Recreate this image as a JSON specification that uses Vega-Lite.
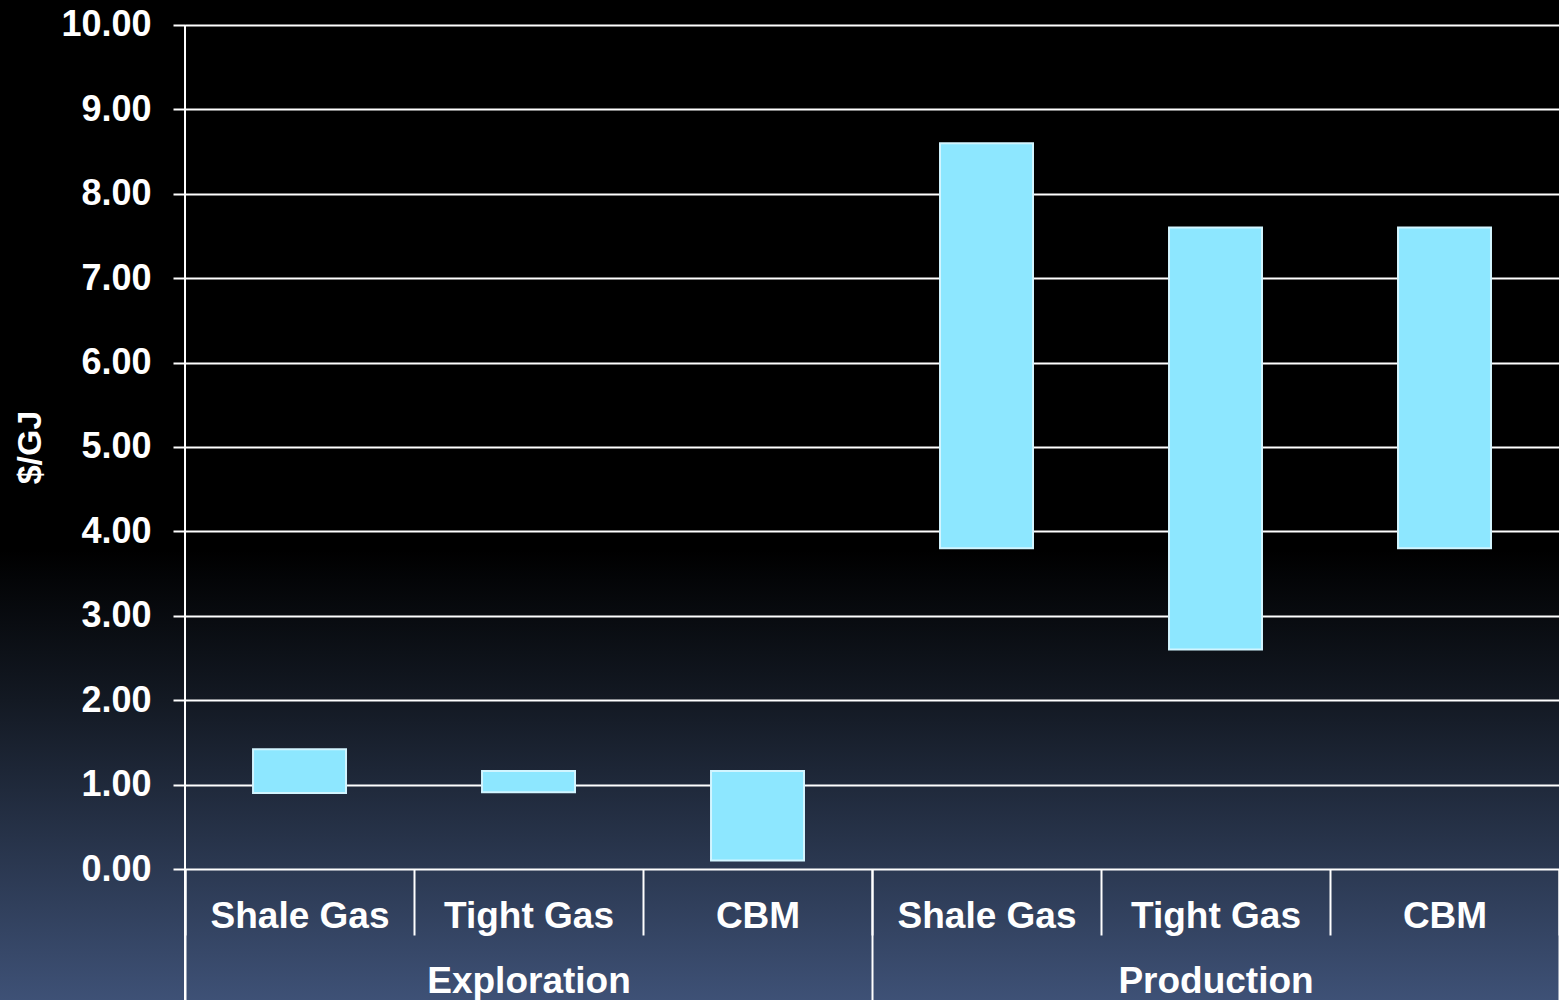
{
  "$schema": "https://vega.github.io/schema/vega-lite/v6.json",
  "width": 1559,
  "height": 1000,
  "autosize": {"type": "none"},
  "padding": 0,
  "background": "#000000",
  "view": {
    "stroke": null,
    "fill": {
      "gradient": "linear",
      "x1": 0, "y1": 0, "x2": 0, "y2": 1,
      "stops": [
        {"offset": 0, "color": "#000000"},
        {"offset": 0.55, "color": "#000000"},
        {"offset": 0.7, "color": "#131923"},
        {"offset": 1, "color": "#3e5176"}
      ]
    }
  },
  "data": {
    "values": [
      {"key": "Exploration|Shale Gas", "group": "Exploration", "lo": 0.9, "hi": 1.42},
      {"key": "Exploration|Tight Gas", "group": "Exploration", "lo": 0.91, "hi": 1.16},
      {"key": "Exploration|CBM", "group": "Exploration", "lo": 0.1, "hi": 1.16},
      {"key": "Production|Shale Gas", "group": "Production", "lo": 3.8, "hi": 8.6},
      {"key": "Production|Tight Gas", "group": "Production", "lo": 2.6, "hi": 7.6},
      {"key": "Production|CBM", "group": "Production", "lo": 3.8, "hi": 7.6}
    ]
  },
  "layer": [
    {
      "mark": {
        "type": "bar",
        "width": {"band": 0.406},
        "fill": "#8de7ff",
        "stroke": "#d2f5ff",
        "strokeWidth": 2,
        "opacity": 1
      },
      "encoding": {
        "x": {
          "field": "key",
          "type": "nominal",
          "sort": null,
          "scale": {"paddingInner": 0, "paddingOuter": 0.404, "align": 1},
          "axis": {
            "orient": "bottom",
            "offset": -131,
            "title": null,
            "domain": false,
            "grid": false,
            "tickBand": "extent",
            "tickSize": 66,
            "tickColor": "#ffffff",
            "tickWidth": 2,
            "labelExpr": "split(datum.label, '|')[1]",
            "labelAngle": 0,
            "labelOverlap": false,
            "labelLimit": 0,
            "labelFont": "Liberation Sans",
            "labelFontSize": 37,
            "labelFontWeight": "bold",
            "labelColor": "#ffffff",
            "labelPadding": -37
          }
        },
        "y": {
          "field": "lo",
          "type": "quantitative",
          "scale": {"domain": [-1.552, 10.296], "nice": false, "zero": false},
          "axis": {
            "orient": "left",
            "offset": -185,
            "values": [0, 1, 2, 3, 4, 5, 6, 7, 8, 9, 10],
            "format": ".2f",
            "grid": false,
            "domain": false,
            "tickSize": 12,
            "tickColor": "#ffffff",
            "tickWidth": 2,
            "labelFont": "Liberation Sans",
            "labelFontSize": 36,
            "labelFontWeight": "bold",
            "labelColor": "#ffffff",
            "labelPadding": 22,
            "labelOverlap": false,
            "title": "$/GJ",
            "titleFont": "Liberation Sans",
            "titleFontSize": 34,
            "titleFontWeight": "bold",
            "titleColor": "#ffffff",
            "titleAngle": -90,
            "titleAlign": "center",
            "titleBaseline": "middle",
            "titleX": -155,
            "titleY": 447
          }
        },
        "y2": {"field": "hi"}
      }
    },
    {
      "data": {"values": [{"edge": "value axis"}]},
      "mark": {"type": "rule", "color": "#ffffff", "strokeWidth": 2},
      "encoding": {
        "x": {
          "datum": "Exploration",
          "type": "nominal",
          "bandPosition": 0,
          "scale": {
            "domain": ["Exploration", "Production"],
            "paddingInner": 0,
            "paddingOuter": 0.13465,
            "align": 1
          },
          "axis": {
            "orient": "bottom",
            "offset": -131,
            "title": null,
            "domain": false,
            "grid": false,
            "tickBand": "extent",
            "tickSize": 131,
            "tickColor": "#ffffff",
            "tickWidth": 2,
            "labelAngle": 0,
            "labelOverlap": false,
            "labelLimit": 0,
            "labelFont": "Liberation Sans",
            "labelFontSize": 37,
            "labelFontWeight": "bold",
            "labelColor": "#ffffff",
            "labelPadding": -37
          }
        },
        "y": {
          "datum": 10,
          "type": "quantitative",
          "axis": {
            "orient": "left",
            "offset": -185,
            "values": [0, 1, 2, 3, 4, 5, 6, 7, 8, 9, 10],
            "labels": false,
            "domain": false,
            "grid": false,
            "title": null,
            "tickSize": -1374,
            "tickColor": "#ffffff",
            "tickWidth": 2
          }
        },
        "y2": {"datum": -1.552}
      }
    }
  ],
  "resolve": {
    "scale": {"x": "independent"},
    "axis": {"x": "independent", "y": "independent"}
  }
}
